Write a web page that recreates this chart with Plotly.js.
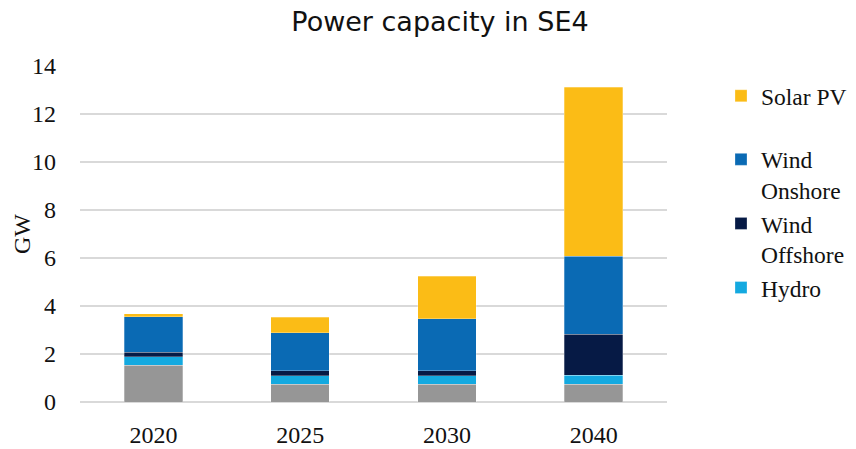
<!DOCTYPE html>
<html>
<head>
<meta charset="utf-8">
<script src="https://cdn.plot.ly/plotly-3.0.1.min.js"></script>
<style>html,body{margin:0;padding:0;background:#fff;}#chart{width:856px;height:449px;}</style>
</head>
<body>
<div id="chart"></div>
<script>
const years = ['2020', '2025', '2030', '2040'];
const other = [1.54, 0.75, 0.75, 0.75];
const hydro = [0.34, 0.34, 0.34, 0.36];
const windOffshore = [0.20, 0.22, 0.22, 1.72];
const windOnshore = [1.47, 1.58, 2.15, 3.24];
const solarPV = [0.12, 0.64, 1.79, 7.04];
const yTicks = [0, 2, 4, 6, 8, 10, 12, 14];

const edge = {width: 0.8, color: 'rgba(255,255,255,0.35)'};
function bar(name, y, color, group, rank, show) {
  return {type: 'bar', x: years, y: y, name: name, legendgroup: group, legendrank: rank, showlegend: show,
          marker: {color: color, line: edge}, hoverinfo: 'y+name'};
}
const data = [
  bar('Other', other, '#969696', 'o', 5, false),
  bar('Hydro', hydro, '#14A9E0', 'w', 4, true),
  bar('Wind<br>Offshore', windOffshore, '#061A45', 'w', 3, true),
  bar('Wind<br>Onshore', windOnshore, '#0A6AB4', 'w', 2, true),
  bar('Solar PV', solarPV, '#FBBC16', 's', 1, true)
];
const serif = '"Liberation Serif", "Times New Roman", serif';
const layout = {
  width: 856, height: 449,
  margin: {l: 80, r: 189, t: 66, b: 47},
  paper_bgcolor: '#fff', plot_bgcolor: '#fff',
  barmode: 'stack', bargap: 0.6,
  title: {text: 'Power capacity in SE4', font: {family: '"DejaVu Sans", Verdana, sans-serif', size: 27, color: '#111'},
          x: 440/856, xref: 'container', xanchor: 'center', y: 1 - 22/449, yref: 'container', yanchor: 'middle'},
  xaxis: {type: 'category', showgrid: false, showline: false, zeroline: false, ticks: '',
          tickfont: {family: serif, size: 24, color: '#111'}, ticklabelstandoff: 16},
  yaxis: {range: [0, 14], tickvals: yTicks, ticktext: yTicks.map(String),
          showgrid: true, gridcolor: '#d9d9d9', gridwidth: 1.5,
          zeroline: true, zerolinecolor: '#d9d9d9', zerolinewidth: 1.5,
          showline: false, ticks: '', ticklabelstandoff: 23,
          tickfont: {family: serif, size: 24, color: '#111'}},
  annotations: [{text: 'GW', textangle: -90, showarrow: false, xref: 'paper', yref: 'paper',
                 x: (22 - 80) / 587, y: 0.5, xanchor: 'center', yanchor: 'middle',
                 font: {family: serif, size: 24, color: '#111'}}],
  legend: {x: 721/856, xref: 'container', xanchor: 'left', y: 1 - 74/449, yref: 'container', yanchor: 'top',
           traceorder: 'grouped', tracegroupgap: 30, valign: 'top', maxheight: 420,
           font: {family: serif, size: 23.5, color: '#111'}, bgcolor: 'rgba(0,0,0,0)'},
  showlegend: true
};
Plotly.newPlot('chart', data, layout, {displayModeBar: false, staticPlot: true});
</script>
</body>
</html>
